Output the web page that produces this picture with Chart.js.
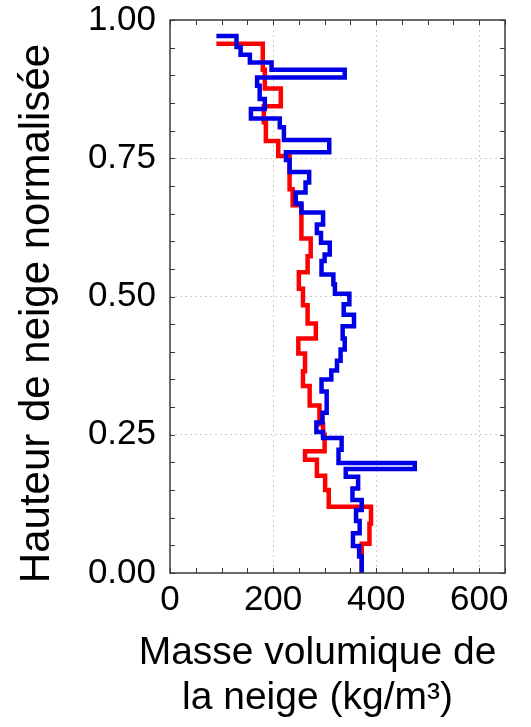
<!DOCTYPE html>
<html lang="fr">
<head>
<meta charset="utf-8">
<title>Masse volumique de la neige</title>
<script src="https://cdn.jsdelivr.net/npm/chart.js@4.4.1/dist/chart.umd.min.js"></script>
<style>
  html, body { margin: 0; padding: 0; background: #fff; }
  #wrap { width: 531px; height: 727px; }
</style>
</head>
<body>
<div id="wrap"><canvas id="myChart" width="531" height="727"></canvas></div>
<script>
//! Profil bleu : limites des couches (hauteur normalisée, du haut vers le bas)
const blueStart = 90;
const blueHeights = [
  0.971, 0.951, 0.937, 0.923, 0.910, 0.896, 0.881, 0.857, 0.839, 0.822,
  0.806, 0.783, 0.761, 0.747, 0.725, 0.706, 0.688, 0.668, 0.652, 0.630,
  0.615, 0.597, 0.576, 0.564, 0.540, 0.522, 0.505, 0.486, 0.467, 0.446,
  0.424, 0.404, 0.384, 0.366, 0.350, 0.328, 0.290, 0.272, 0.255, 0.244,
  0.223, 0.199, 0.188, 0.174, 0.153, 0.132, 0.114, 0.094, 0.072, 0.049,
  0.030, 0.000,
];
//! Profil bleu : masse volumique de chaque couche (kg/m3)
const blueDensity = [
  129, 137, 155, 197, 339, 169, 174, 184, 157, 213,
  221, 309, 225, 232, 270, 263, 244, 255, 297, 285,
  293, 310, 300, 294, 317, 320, 348, 337, 357, 335,
  339, 331, 324, 313, 294, 304, 296, 284, 297, 333,
  327, 475, 341, 365, 354, 372, 361, 368, 355, 367,
  372,
];
//! ---------------------------------

//! Profil rouge
const redStart = 90;
const redHeights = [
  0.957, 0.910, 0.876, 0.844, 0.815, 0.781, 0.754, 0.694, 0.665, 0.605,
  0.573, 0.544, 0.514, 0.484, 0.451, 0.424, 0.397, 0.365, 0.338, 0.303,
  0.269, 0.250, 0.220, 0.205, 0.176, 0.150, 0.120, 0.089, 0.053, 0.000,
];
const redDensity = [
  180, 184, 215, 182, 186, 210, 232, 238, 255, 273,
  267, 250, 258, 267, 283, 249, 262, 258, 271, 290,
  297, 300, 262, 285, 301, 308, 390, 387, 372,
];
//! ---------------------------------

//! Graduations et titres
const xTickLabels = [0, 200, 400, 600];
const yTickLabels = [0, 0.25, 0.5, 0.75, 1];
const xTitle = ['Masse volumique de', 'la neige (kg/m³)'];
const yTitle = 'Hauteur de neige normalisée';
//! ---------------------------------

const FONT = '"Liberation Sans", Arial, Helvetica, sans-serif';

//! Points du tracé en escalier : trait vertical puis horizontal à chaque limite.
function profil(start, heights, density) {
  const pts = [{ x: start, y: heights[0] }];
  density.forEach((d, i) => pts.push({ x: d, y: heights[i] }));
  pts.push({ x: density[density.length - 1], y: heights[heights.length - 1] });
  return pts;
}

//! Cadre, petites graduations intérieures et titres des axes.
const cadre = {
  id: 'cadre',
  afterDatasetsDraw(chart) {
    const { ctx, chartArea: a, scales: { x, y } } = chart;
    ctx.save();
    ctx.strokeStyle = '#3a3a3a';
    ctx.lineWidth = 1;
    ctx.beginPath();
    x.ticks.forEach((t) => {
      const px = Math.round(x.getPixelForValue(t.value)) + 0.5;
      ctx.moveTo(px, a.bottom); ctx.lineTo(px, a.bottom - 5);
      ctx.moveTo(px, a.top); ctx.lineTo(px, a.top + 5);
    });
    y.ticks.forEach((t) => {
      const py = Math.round(y.getPixelForValue(t.value)) + 0.5;
      ctx.moveTo(a.left, py); ctx.lineTo(a.left + 5, py);
      ctx.moveTo(a.right, py); ctx.lineTo(a.right - 5, py);
    });
    ctx.stroke();
    ctx.lineWidth = 1.5;
    ctx.strokeRect(a.left, a.top, a.right - a.left, a.bottom - a.top);

    ctx.fillStyle = '#000';
    ctx.font = '39px ' + FONT;
    ctx.textAlign = 'center';
    ctx.textBaseline = 'alphabetic';
    const cx = (a.left + a.right) / 2 - 20;
    ctx.fillText(xTitle[0], cx, a.bottom + 91);
    ctx.fillText(xTitle[1], cx, a.bottom + 136);
    ctx.font = '42px ' + FONT;
    ctx.translate(a.left - 121, (a.top + a.bottom) / 2 + 17);
    ctx.rotate(-Math.PI / 2);
    ctx.fillText(yTitle, 0, 0);
    ctx.restore();
  },
};

const ctx = document.getElementById('myChart').getContext('2d');

const data = {
  datasets: [
    {
      label: 'rouge',
      data: profil(redStart, redHeights, redDensity),
      borderColor: '#ff0000',
      showLine: true,
      order: 2,
    },
    {
      label: 'bleu',
      data: profil(blueStart, blueHeights, blueDensity),
      borderColor: '#0000e6',
      showLine: true,
      order: 1,
    },
  ],
};

const gridColor = (major) => (c) => (major(c.tick.value) ? '#cfcfcf' : 'rgba(0,0,0,0)');

const options = {
  responsive: false,
  animation: false,
  layout: { padding: { top: 20, right: 26, left: 0, bottom: 0 } },
  elements: {
    point: { radius: 0 },
    line: {
      borderWidth: 4.5,
      stepped: 'after',
      tension: 0,
      fill: false,
      borderJoinStyle: 'miter',
      borderCapStyle: 'butt',
    },
  },
  plugins: { legend: { display: false }, tooltip: { enabled: false } },
  scales: {
    x: {
      type: 'linear',
      min: 0,
      max: 650,
      afterFit: (s) => {
        s.height = 154;
        s.paddingLeft = 0;
        s.paddingRight = 0;
      },
      border: { display: false, dash: [2, 3] },
      grid: {
        drawTicks: false,
        color: gridColor((v) => v > 0 && v < 650 && v % 200 === 0),
      },
      ticks: {
        stepSize: 50,
        autoSkip: false,
        maxRotation: 0,
        padding: 6,
        color: '#000',
        font: { family: FONT, size: 35 },
        callback: (v) => (xTickLabels.includes(v) ? String(v) : ''),
      },
    },
    y: {
      type: 'linear',
      min: 0,
      max: 1,
      afterFit: (s) => {
        s.width = 170;
        s.paddingTop = 0;
        s.paddingBottom = 0;
      },
      border: { display: false, dash: [2, 3] },
      grid: {
        drawTicks: false,
        color: gridColor((v) => {
          const r = Math.round(v * 100);
          return r > 0 && r < 100 && r % 25 === 0;
        }),
      },
      ticks: {
        stepSize: 0.05,
        autoSkip: false,
        padding: 14,
        color: '#000',
        font: { family: FONT, size: 35 },
        callback: (v) => {
          const r = Math.round(v * 100) / 100;
          return yTickLabels.includes(r) ? r.toFixed(2) : '';
        },
      },
    },
  },
};

const config = {
  type: 'scatter',
  data,
  options,
  plugins: [cadre],
};

const myChart = new Chart(ctx, config);
</script>
</body>
</html>
